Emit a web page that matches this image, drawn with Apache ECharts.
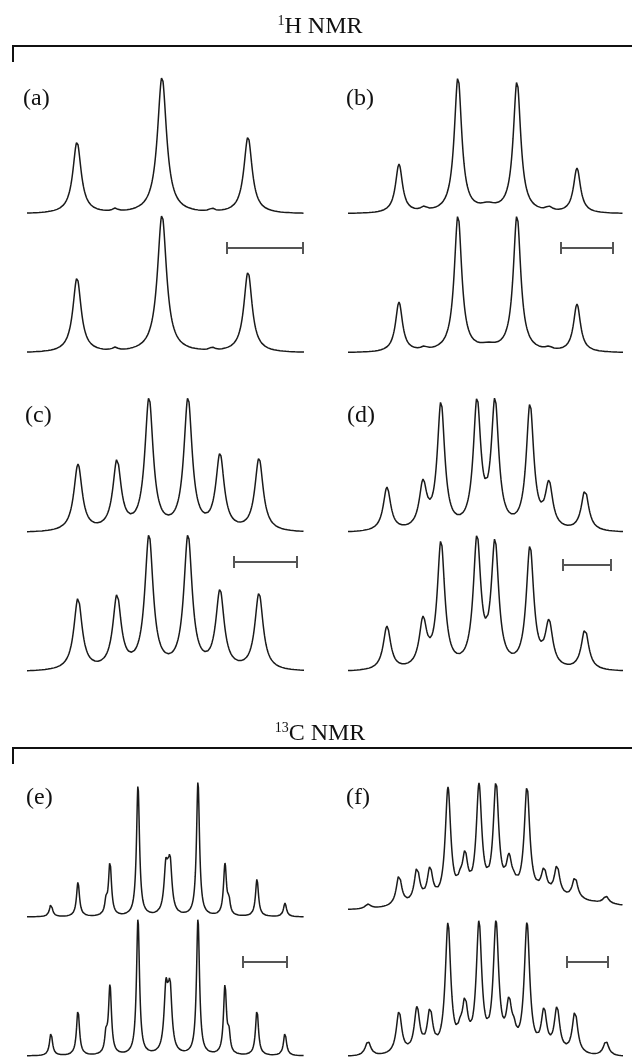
<!DOCTYPE html>
<html>
<head>
<meta charset="utf-8">
<style>
  html, body { margin: 0; padding: 0; background: #fff; }
  #main { width: 632px; height: 1059px; }
</style>
<script src="https://cdn.jsdelivr.net/npm/echarts@6/dist/echarts.min.js"></script>
</head>
<body>
<div id="main"></div>
<script>
// peak lists
// pos = line position along the trace, wid = half width, top/bot = height in upper (exp) / lower (sim) trace
var aPos = [50, 88, 135, 185, 221];
var aWid = [5, 3, 5.5, 3, 5];
var aTop = [72, 6, 137, 6, 77];
var aBot = [75, 6, 138, 6, 81];

var bPos = [51, 76, 110, 140, 169, 201, 229];
var bWid = [4.2, 4, 4.5, 10, 4.5, 4, 4.2];
var bTop = [50, 8, 137, 12, 133, 8, 46];
var bBot = [51, 7, 138, 11, 138, 7, 49];

var cPos = [51, 90, 122, 161, 193, 232];
var cWid = [5, 5, 5, 5, 5, 5];
var cTop = [69, 74, 136, 136, 80, 75];
var cBot = [74, 78, 138, 138, 83, 79];

var dPos = [39, 75, 93, 129, 147, 182, 201, 237];
var dWid = [4.5, 4.5, 4.5, 4.5, 4.5, 4.5, 4.5, 4.5];
var dTop = [46, 54, 132, 136, 136, 130, 53, 43];
var dBot = [46, 56, 132, 138, 134, 127, 53, 43];

var ePos = [24, 51, 79, 83, 111, 139, 143, 171, 198, 202, 230, 258];
var eWid = [1.8, 1.8, 1.5, 1.8, 1.8, 2.3, 2.3, 1.8, 1.8, 1.5, 1.8, 1.8];
var eTop = [13, 35, 22, 56, 132, 60, 63, 136, 54, 22, 38, 14];
var eBot = [23, 46, 30, 72, 138, 78, 78, 138, 72, 30, 46, 23];

var fPos = [20, 51, 69, 82, 100, 112, 117, 131, 148, 161, 166, 179, 196, 209, 227, 258];
var fWid = [3.2, 3.3, 3.3, 3.3, 3.3, 2.6, 3.3, 3.3, 3.3, 3.3, 2.6, 3.3, 3.3, 3.3, 3.3, 3.2];
var fTop = [9, 38, 46, 47, 126, 44, 63, 130, 132, 60, 42, 127, 46, 48, 36, 17];
var fBot = [16, 46, 51, 50, 135, 40, 61, 137, 137, 61, 40, 135, 50, 51, 46, 16];
// broad background hump under the measured 13C trace of (f)
var fHump = { pos: 182, wid: 90, height: 15 };

function lorentz(x, p, a, w) {
  var d = x - p;
  return a * w * w / (d * d + w * w);
}
function noBg() { return 0; }

// find amplitudes so that the summed lines reach the read heights
function fitAmps(pos, wid, hts, bg) {
  var amp = hts.slice();
  for (var it = 0; it < 300; it++) {
    for (var i = 0; i < pos.length; i++) {
      var s = bg(pos[i]);
      for (var j = 0; j < pos.length; j++) s += lorentz(pos[i], pos[j], amp[j], wid[j]);
      amp[i] = Math.max(0, amp[i] + 0.5 * (hts[i] - s));
    }
  }
  return amp;
}

function trace(pos, wid, hts, span, step, offset, bg) {
  var amp = fitAmps(pos, wid, hts, bg);
  var out = [];
  for (var x = 0; x <= span + 1e-9; x += step) {
    var y = offset + bg(x);
    for (var j = 0; j < pos.length; j++) y += lorentz(x, pos[j], amp[j], wid[j]);
    out.push([Math.round(x * 100) / 100, y]);
  }
  return out;
}

var humpBg = function (x) { return lorentz(x, fHump.pos, fHump.height, fHump.wid); };

var panels = [
  { pos: aPos, wid: aWid, top: aTop, bot: aBot, left: 27, span: 277, gtop: 70, base: 353, off: 139, step: 0.5, bg: noBg },
  { pos: bPos, wid: bWid, top: bTop, bot: bBot, left: 348, span: 275, gtop: 70, base: 353, off: 139, step: 0.5, bg: noBg },
  { pos: cPos, wid: cWid, top: cTop, bot: cBot, left: 27, span: 277, gtop: 390, base: 672, off: 139, step: 0.5, bg: noBg },
  { pos: dPos, wid: dWid, top: dTop, bot: dBot, left: 348, span: 275, gtop: 390, base: 672, off: 139, step: 0.5, bg: noBg },
  { pos: ePos, wid: eWid, top: eTop, bot: eBot, left: 27, span: 277, gtop: 775, base: 1056, off: 139, step: 0.2, bg: noBg },
  { pos: fPos, wid: fWid, top: fTop, bot: fBot, left: 348, span: 275, gtop: 775, base: 1057, off: 144, step: 0.25, bg: humpBg }
];

var grids = [], xAxes = [], yAxes = [], series = [];
panels.forEach(function (p, i) {
  grids.push({ left: p.left, top: p.gtop, width: p.span, height: p.base - p.gtop });
  xAxes.push({ type: 'value', gridIndex: i, min: 0, max: p.span, show: false });
  yAxes.push({ type: 'value', gridIndex: i, min: 0, max: p.base - p.gtop, show: false });
  var lineStyle = { color: '#1a1a1a', width: 1.5 };
  series.push({
    type: 'line', xAxisIndex: i, yAxisIndex: i, showSymbol: false, silent: true,
    lineStyle: lineStyle, clip: false,
    data: trace(p.pos, p.wid, p.top, p.span, p.step, p.off, p.bg)
  });
  series.push({
    type: 'line', xAxisIndex: i, yAxisIndex: i, showSymbol: false, silent: true,
    lineStyle: lineStyle, clip: false,
    data: trace(p.pos, p.wid, p.bot, p.span, p.step, 0, noBg)
  });
});

var serif = '"Liberation Serif", "DejaVu Serif", serif';

function header(txt, sup, y) {
  return {
    type: 'text', x: 320, y: y,
    style: {
      text: '{s|' + sup + '}{m|' + txt + '}',
      align: 'center', verticalAlign: 'middle',
      rich: {
        s: { fontFamily: serif, fontSize: 14, lineHeight: 14, verticalAlign: 'top', fill: '#111' },
        m: { fontFamily: serif, fontSize: 24, lineHeight: 26, fill: '#111' }
      }
    }
  };
}
function bracket(y) {
  return {
    type: 'polyline',
    shape: { points: [[13, y + 16], [13, y], [632, y]] },
    style: { stroke: '#111', lineWidth: 2, fill: null }
  };
}
function label(txt, x, y) {
  return {
    type: 'text', x: x, y: y,
    style: { text: txt, font: '24px ' + serif, fill: '#111', verticalAlign: 'middle' }
  };
}
function scaleBar(x1, x2, y) {
  var st = { stroke: '#555', lineWidth: 2 };
  return {
    type: 'group', children: [
      { type: 'line', shape: { x1: x1, y1: y, x2: x2, y2: y }, style: st },
      { type: 'line', shape: { x1: x1, y1: y - 6, x2: x1, y2: y + 6 }, style: st },
      { type: 'line', shape: { x1: x2, y1: y - 6, x2: x2, y2: y + 6 }, style: st }
    ]
  };
}

var chart = echarts.init(document.getElementById('main'));
chart.setOption({
  animation: false,
  grid: grids,
  xAxis: xAxes,
  yAxis: yAxes,
  series: series,
  graphic: [
    header('H NMR', '1', 27),
    bracket(46),
    header('C NMR', '13', 734),
    bracket(748),
    label('(a)', 23, 99),
    label('(b)', 346, 99),
    label('(c)', 25, 416),
    label('(d)', 347, 416),
    label('(e)', 26, 798),
    label('(f)', 346, 798),
    scaleBar(227, 303, 248),
    scaleBar(561, 613, 248),
    scaleBar(234, 297, 562),
    scaleBar(563, 611, 565),
    scaleBar(243, 287, 962),
    scaleBar(567, 608, 962)
  ]
});
</script>
</body>
</html>
